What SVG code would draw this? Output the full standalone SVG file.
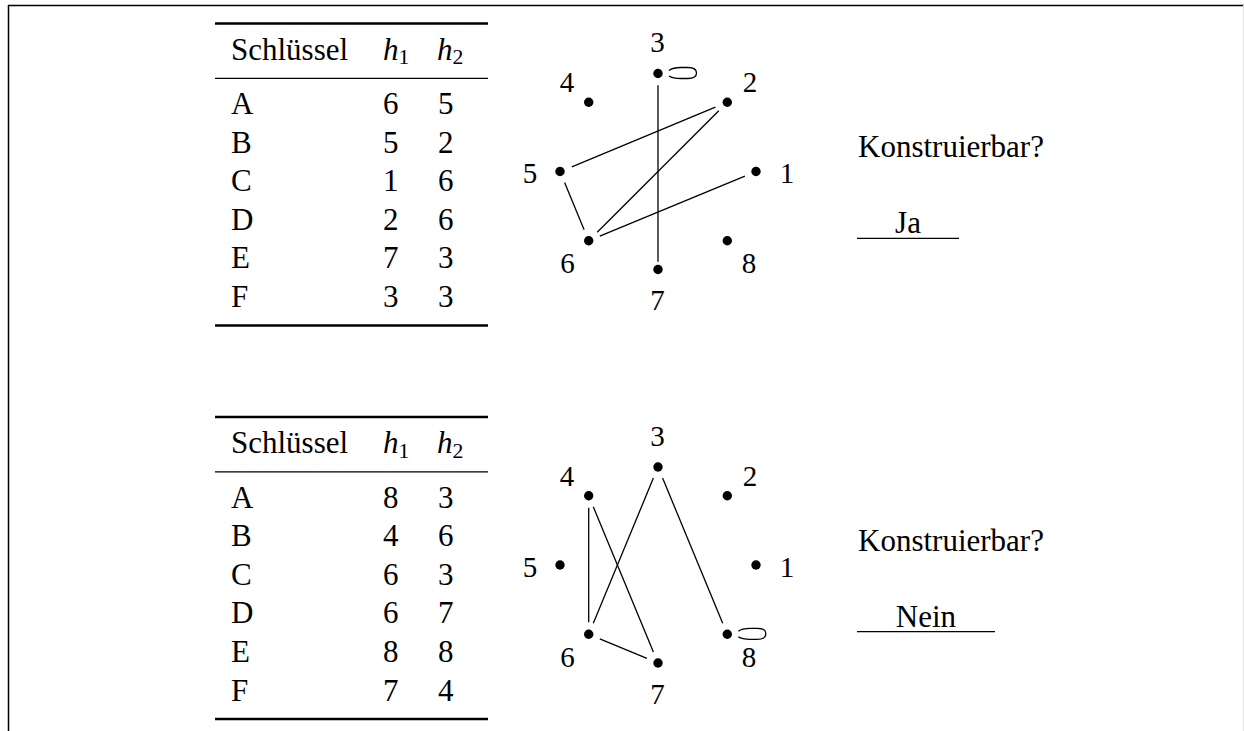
<svg xmlns="http://www.w3.org/2000/svg" width="1244" height="731" viewBox="0 0 1244 731">
<style>
  text { font-family: "Liberation Serif", "Times New Roman", serif; fill: #000; }
  .t { font-size: 31px; }
  .i { font-size: 31px; font-style: italic; }
  .sub { font-size: 21.7px; }
  .lbl { font-size: 29px; text-anchor: middle; }
  .mid { text-anchor: middle; }
  .thick { stroke: #000; stroke-width: 2.5; }
  .thin { stroke: #000; stroke-width: 1.3; }
  .edge { stroke: #000; stroke-width: 1.3; fill: none; }
  .dot { fill: #000; }
</style>
<defs>
  <path id="loop" d="M11,-3 Q15,-6.2 24,-6 L30,-6 Q38.5,-6 38.5,-0.5 Q38.5,5 30,5 L24,5 Q15,5.2 11,2.5" fill="none" stroke="#000" stroke-width="1.3"/>
  <circle id="d" r="4.7" class="dot"/>
</defs>
<rect width="1244" height="731" fill="#fff"/>
<g id="frame">
  <line x1="8" y1="5.5" x2="1244" y2="5.5" stroke="#000" stroke-width="1.5"/>
  <line x1="8.5" y1="5" x2="8.5" y2="731" stroke="#000" stroke-width="1.5"/>
  <line x1="1243.5" y1="5" x2="1243.5" y2="731" stroke="#e2e2e2" stroke-width="1"/>
</g>

<!-- Top section -->
<g id="table1">
  <line x1="215" y1="23.5" x2="488" y2="23.5" class="thick"/>
  <line x1="215" y1="78.3" x2="488" y2="78.3" class="thin"/>
  <line x1="215" y1="325.5" x2="488" y2="325.5" class="thick"/>
  <text x="231" y="59.5" class="t">Schlüssel</text>
  <text x="383" y="59.5" class="i">h</text><text x="398.5" y="64" class="sub">1</text>
  <text x="437" y="59.5" class="i">h</text><text x="452.5" y="64" class="sub">2</text>
  <g class="t">
    <text x="231" y="114">A</text><text x="383" y="114">6</text><text x="438" y="114">5</text>
    <text x="231" y="152.6">B</text><text x="383" y="152.6">5</text><text x="438" y="152.6">2</text>
    <text x="231" y="191.2">C</text><text x="383" y="191.2">1</text><text x="438" y="191.2">6</text>
    <text x="231" y="229.8">D</text><text x="383" y="229.8">2</text><text x="438" y="229.8">6</text>
    <text x="231" y="268.4">E</text><text x="383" y="268.4">7</text><text x="438" y="268.4">3</text>
    <text x="231" y="307">F</text><text x="383" y="307">3</text><text x="438" y="307">3</text>
  </g>
</g>

<g id="graph1-connectors">
  <line x1="658" y1="85.3" x2="658" y2="261.7" class="edge"/>
  <line x1="571.8" y1="166.9" x2="715.4" y2="107.2" class="edge"/>
  <line x1="564.6" y1="182.6" x2="584.1" y2="229.7" class="edge"/>
  <line x1="597.2" y1="232.3" x2="718.8" y2="110.7" class="edge"/>
  <line x1="599.8" y1="236.2" x2="744.9" y2="176.1" class="edge"/>
  <use href="#loop" transform="translate(658,73.5)"/>
</g>
<g id="graph1-nodes">
  <g id="g1-n1"><use href="#d" x="756" y="171.5"/><text x="787" y="183" class="lbl">1</text></g>
  <g id="g1-n2"><use href="#d" x="727.3" y="102.2"/><text x="750" y="92" class="lbl">2</text></g>
  <g id="g1-n3"><use href="#d" x="658" y="73.5"/><text x="657.5" y="52" class="lbl">3</text></g>
  <g id="g1-n4"><use href="#d" x="588.7" y="102.2"/><text x="567" y="92" class="lbl">4</text></g>
  <g id="g1-n5"><use href="#d" x="560" y="171.5"/><text x="530" y="183" class="lbl">5</text></g>
  <g id="g1-n6"><use href="#d" x="588.7" y="240.8"/><text x="567.5" y="273" class="lbl">6</text></g>
  <g id="g1-n7"><use href="#d" x="658" y="269.5"/><text x="657.5" y="310" class="lbl">7</text></g>
  <g id="g1-n8"><use href="#d" x="727.3" y="240.8"/><text x="749" y="273" class="lbl">8</text></g>
</g>

<g id="answer1">
  <text x="858" y="157" class="t">Konstruierbar?</text>
  <text x="908" y="232.5" class="t mid">Ja</text>
  <line x1="857" y1="238.3" x2="959" y2="238.3" class="thin"/>
</g>

<!-- Bottom section -->
<g id="table2">
  <line x1="215" y1="417" x2="488" y2="417" class="thick"/>
  <line x1="215" y1="471.8" x2="488" y2="471.8" class="thin"/>
  <line x1="215" y1="719" x2="488" y2="719" class="thick"/>
  <text x="231" y="453" class="t">Schlüssel</text>
  <text x="383" y="453" class="i">h</text><text x="398.5" y="457.5" class="sub">1</text>
  <text x="437" y="453" class="i">h</text><text x="452.5" y="457.5" class="sub">2</text>
  <g class="t">
    <text x="231" y="507.5">A</text><text x="383" y="507.5">8</text><text x="438" y="507.5">3</text>
    <text x="231" y="546.1">B</text><text x="383" y="546.1">4</text><text x="438" y="546.1">6</text>
    <text x="231" y="584.7">C</text><text x="383" y="584.7">6</text><text x="438" y="584.7">3</text>
    <text x="231" y="623.3">D</text><text x="383" y="623.3">6</text><text x="438" y="623.3">7</text>
    <text x="231" y="661.9">E</text><text x="383" y="661.9">8</text><text x="438" y="661.9">8</text>
    <text x="231" y="700.5">F</text><text x="383" y="700.5">7</text><text x="438" y="700.5">4</text>
  </g>
</g>

<g id="graph2-connectors">
  <line x1="662.6" y1="478.1" x2="722.7" y2="623.2" class="edge"/>
  <line x1="588.7" y1="507.7" x2="588.7" y2="622.3" class="edge"/>
  <line x1="653.4" y1="478.1" x2="593.3" y2="623.2" class="edge"/>
  <line x1="599.8" y1="638.9" x2="646.9" y2="658.4" class="edge"/>
  <line x1="593.3" y1="506.8" x2="653.4" y2="651.9" class="edge"/>
  <use href="#loop" transform="translate(727.3,634.3)"/>
</g>
<g id="graph2-nodes">
  <g id="g2-n1"><use href="#d" x="756" y="565"/><text x="787" y="576.5" class="lbl">1</text></g>
  <g id="g2-n2"><use href="#d" x="727.3" y="495.7"/><text x="750" y="485.5" class="lbl">2</text></g>
  <g id="g2-n3"><use href="#d" x="658" y="467"/><text x="657.5" y="445.5" class="lbl">3</text></g>
  <g id="g2-n4"><use href="#d" x="588.7" y="495.7"/><text x="567" y="485.5" class="lbl">4</text></g>
  <g id="g2-n5"><use href="#d" x="560" y="565"/><text x="530" y="576.5" class="lbl">5</text></g>
  <g id="g2-n6"><use href="#d" x="588.7" y="634.3"/><text x="567.5" y="666.5" class="lbl">6</text></g>
  <g id="g2-n7"><use href="#d" x="658" y="663"/><text x="657.5" y="703.5" class="lbl">7</text></g>
  <g id="g2-n8"><use href="#d" x="727.3" y="634.3"/><text x="749" y="666.5" class="lbl">8</text></g>
</g>

<g id="answer2">
  <text x="858" y="550.5" class="t">Konstruierbar?</text>
  <text x="926" y="626.5" class="t mid">Nein</text>
  <line x1="857" y1="631.7" x2="995" y2="631.7" class="thin"/>
</g>
</svg>
